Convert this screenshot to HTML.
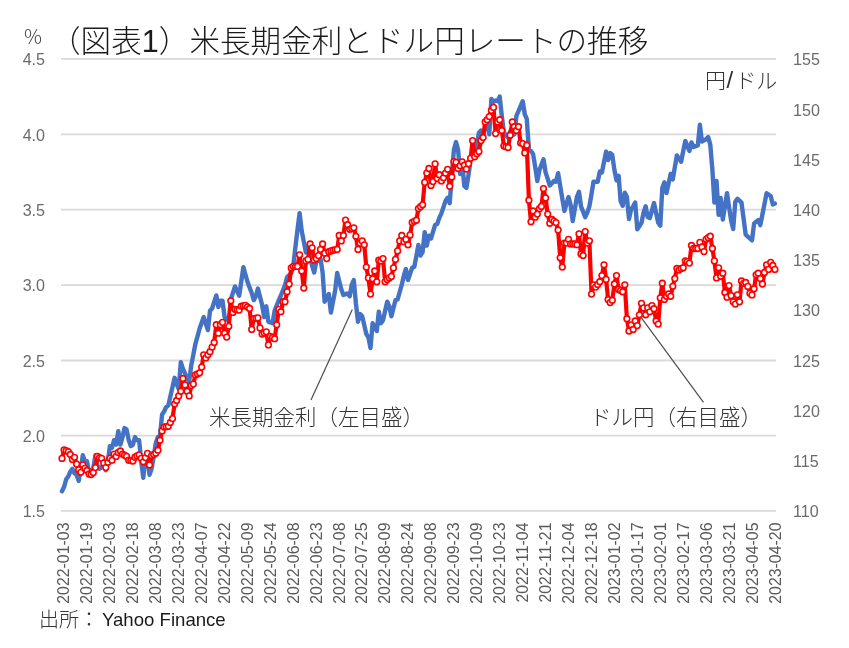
<!DOCTYPE html><html><head><meta charset="utf-8"><style>html,body{margin:0;padding:0;background:#fff;}svg{display:block}.jp{font-family:"Liberation Sans","Noto Sans CJK JP",sans-serif}.ax{font-family:"Liberation Sans","Noto Sans CJK JP",sans-serif;fill:#595959}.num{fill:#6b6b6b}</style></head><body>
<svg style="will-change:transform" width="849" height="648" viewBox="0 0 849 648">
<line x1="61" x2="776" y1="58.90" y2="58.90" stroke="#d9d9d9" stroke-width="1.8"/>
<line x1="61" x2="776" y1="134.30" y2="134.30" stroke="#d9d9d9" stroke-width="1.8"/>
<line x1="61" x2="776" y1="209.70" y2="209.70" stroke="#d9d9d9" stroke-width="1.8"/>
<line x1="61" x2="776" y1="285.10" y2="285.10" stroke="#d9d9d9" stroke-width="1.8"/>
<line x1="61" x2="776" y1="360.50" y2="360.50" stroke="#d9d9d9" stroke-width="1.8"/>
<line x1="61" x2="776" y1="435.70" y2="435.70" stroke="#d9d9d9" stroke-width="1.8"/>
<line x1="61" x2="776" y1="510.80" y2="510.80" stroke="#d9d9d9" stroke-width="1.8"/>
<text class="ax num" x="45" y="65.2" font-size="16.1" text-anchor="end">4.5</text>
<text class="ax num" x="45" y="140.5" font-size="16.1" text-anchor="end">4.0</text>
<text class="ax num" x="45" y="215.8" font-size="16.1" text-anchor="end">3.5</text>
<text class="ax num" x="45" y="291.1" font-size="16.1" text-anchor="end">3.0</text>
<text class="ax num" x="45" y="366.5" font-size="16.1" text-anchor="end">2.5</text>
<text class="ax num" x="45" y="441.8" font-size="16.1" text-anchor="end">2.0</text>
<text class="ax num" x="45" y="517.1" font-size="16.1" text-anchor="end">1.5</text>
<text class="ax num" x="793" y="65.3" font-size="16.1">155</text>
<text class="ax num" x="793" y="115.5" font-size="16.1">150</text>
<text class="ax num" x="793" y="165.7" font-size="16.1">145</text>
<text class="ax num" x="793" y="215.9" font-size="16.1">140</text>
<text class="ax num" x="793" y="266.1" font-size="16.1">135</text>
<text class="ax num" x="793" y="316.4" font-size="16.1">130</text>
<text class="ax num" x="793" y="366.6" font-size="16.1">125</text>
<text class="ax num" x="793" y="416.8" font-size="16.1">120</text>
<text class="ax num" x="793" y="467.0" font-size="16.1">115</text>
<text class="ax num" x="793" y="517.2" font-size="16.1">110</text>
<text class="ax" transform="translate(69.10,522.5) rotate(-90)" font-size="15.9" text-anchor="end">2022-01-03</text>
<text class="ax" transform="translate(92.05,522.5) rotate(-90)" font-size="15.9" text-anchor="end">2022-01-19</text>
<text class="ax" transform="translate(115.00,522.5) rotate(-90)" font-size="15.9" text-anchor="end">2022-02-03</text>
<text class="ax" transform="translate(137.95,522.5) rotate(-90)" font-size="15.9" text-anchor="end">2022-02-18</text>
<text class="ax" transform="translate(160.90,522.5) rotate(-90)" font-size="15.9" text-anchor="end">2022-03-08</text>
<text class="ax" transform="translate(183.85,522.5) rotate(-90)" font-size="15.9" text-anchor="end">2022-03-23</text>
<text class="ax" transform="translate(206.80,522.5) rotate(-90)" font-size="15.9" text-anchor="end">2022-04-07</text>
<text class="ax" transform="translate(229.75,522.5) rotate(-90)" font-size="15.9" text-anchor="end">2022-04-22</text>
<text class="ax" transform="translate(252.70,522.5) rotate(-90)" font-size="15.9" text-anchor="end">2022-05-09</text>
<text class="ax" transform="translate(275.65,522.5) rotate(-90)" font-size="15.9" text-anchor="end">2022-05-24</text>
<text class="ax" transform="translate(298.60,522.5) rotate(-90)" font-size="15.9" text-anchor="end">2022-06-08</text>
<text class="ax" transform="translate(321.55,522.5) rotate(-90)" font-size="15.9" text-anchor="end">2022-06-23</text>
<text class="ax" transform="translate(344.50,522.5) rotate(-90)" font-size="15.9" text-anchor="end">2022-07-08</text>
<text class="ax" transform="translate(367.45,522.5) rotate(-90)" font-size="15.9" text-anchor="end">2022-07-25</text>
<text class="ax" transform="translate(390.40,522.5) rotate(-90)" font-size="15.9" text-anchor="end">2022-08-09</text>
<text class="ax" transform="translate(413.35,522.5) rotate(-90)" font-size="15.9" text-anchor="end">2022-08-24</text>
<text class="ax" transform="translate(436.30,522.5) rotate(-90)" font-size="15.9" text-anchor="end">2022-09-08</text>
<text class="ax" transform="translate(459.25,522.5) rotate(-90)" font-size="15.9" text-anchor="end">2022-09-23</text>
<text class="ax" transform="translate(482.20,522.5) rotate(-90)" font-size="15.9" text-anchor="end">2022-10-09</text>
<text class="ax" transform="translate(505.15,522.5) rotate(-90)" font-size="15.9" text-anchor="end">2022-10-23</text>
<text class="ax" transform="translate(528.10,522.5) rotate(-90)" font-size="15.9" text-anchor="end">2022-11-04</text>
<text class="ax" transform="translate(551.05,522.5) rotate(-90)" font-size="15.9" text-anchor="end">2022-11-21</text>
<text class="ax" transform="translate(574.00,522.5) rotate(-90)" font-size="15.9" text-anchor="end">2022-12-04</text>
<text class="ax" transform="translate(596.95,522.5) rotate(-90)" font-size="15.9" text-anchor="end">2022-12-18</text>
<text class="ax" transform="translate(619.90,522.5) rotate(-90)" font-size="15.9" text-anchor="end">2023-01-02</text>
<text class="ax" transform="translate(642.85,522.5) rotate(-90)" font-size="15.9" text-anchor="end">2023-01-17</text>
<text class="ax" transform="translate(665.80,522.5) rotate(-90)" font-size="15.9" text-anchor="end">2023-02-01</text>
<text class="ax" transform="translate(688.75,522.5) rotate(-90)" font-size="15.9" text-anchor="end">2023-02-17</text>
<text class="ax" transform="translate(711.70,522.5) rotate(-90)" font-size="15.9" text-anchor="end">2023-03-06</text>
<text class="ax" transform="translate(734.65,522.5) rotate(-90)" font-size="15.9" text-anchor="end">2023-03-21</text>
<text class="ax" transform="translate(757.60,522.5) rotate(-90)" font-size="15.9" text-anchor="end">2023-04-05</text>
<text class="ax" transform="translate(780.55,522.5) rotate(-90)" font-size="15.9" text-anchor="end">2023-04-20</text>
<polyline points="62.0,491.3 64.1,486.8 66.2,479.3 68.3,476.3 70.3,471.7 72.4,468.7 74.5,473.2 76.6,474.8 78.7,480.8 80.8,468.7 82.8,455.2 84.9,461.2 87.0,461.2 89.1,473.2 91.2,470.2 93.3,468.7 95.4,455.2 97.4,465.7 99.5,468.7 101.6,467.2 103.7,464.2 105.8,470.2 107.9,461.2 109.9,446.1 112.0,447.6 114.1,440.1 116.2,444.6 118.3,431.1 120.4,444.6 122.5,437.1 124.5,428.1 126.6,429.6 128.7,440.1 130.8,446.1 132.9,444.6 135.0,437.1 137.0,440.1 139.1,440.1 141.2,461.2 143.3,477.8 145.4,456.7 147.5,458.2 149.5,474.8 151.6,468.7 153.7,456.7 155.8,443.1 157.9,437.1 160.0,435.6 162.1,414.5 164.1,411.5 166.2,407.0 168.3,405.5 170.4,396.2 172.5,387.0 174.6,377.8 176.6,384.0 178.7,389.0 180.8,362.1 182.9,368.7 185.0,373.4 187.1,378.0 189.2,381.3 191.2,365.6 193.3,354.8 195.4,344.0 197.5,336.3 199.6,328.6 201.7,322.8 203.7,317.0 205.8,323.6 207.9,330.1 210.0,310.8 212.1,308.5 214.2,301.9 216.3,295.4 218.3,307.0 220.4,300.8 222.5,300.8 224.6,317.0 226.7,319.3 228.8,321.6 230.8,299.3 232.9,292.9 235.0,286.4 237.1,291.0 239.2,295.7 241.3,281.4 243.4,267.1 245.4,274.5 247.5,281.8 249.6,287.4 251.7,293.0 253.8,300.1 255.9,296.3 257.9,288.6 260.0,296.7 262.1,304.8 264.2,317.1 266.3,306.3 268.4,321.7 270.4,322.5 272.5,323.3 274.6,310.9 276.7,305.5 278.8,300.1 280.9,295.5 283.0,290.2 285.0,285.0 287.1,277.0 289.2,275.0 291.3,273.0 293.4,265.0 295.5,246.3 297.5,229.7 299.6,213.1 301.7,230.9 303.8,241.7 305.9,252.5 308.0,246.3 310.1,258.6 312.1,265.6 314.2,272.5 316.3,261.7 318.4,260.1 320.5,258.6 322.6,272.3 324.6,301.7 326.7,297.9 328.8,294.0 330.9,312.5 333.0,301.7 335.1,290.9 337.2,273.0 339.2,281.1 341.3,289.3 343.4,295.0 345.5,294.2 347.6,293.5 349.7,296.3 351.7,284.9 353.8,280.1 355.9,303.2 358.0,321.7 360.1,314.0 362.2,316.3 364.3,325.2 366.3,334.1 368.4,337.2 370.5,348.0 372.6,323.3 374.7,327.1 376.8,331.0 378.8,311.7 380.9,323.3 383.0,320.2 385.1,310.9 387.2,301.7 389.3,306.3 391.4,316.3 393.4,308.2 395.5,300.1 397.6,299.4 399.7,292.0 401.8,284.7 403.9,275.4 405.9,269.0 408.0,280.0 410.1,273.8 412.2,267.6 414.3,266.9 416.4,255.9 418.4,244.9 420.5,255.5 422.6,252.0 424.7,232.1 426.8,245.6 428.9,235.7 431.0,238.5 433.0,231.8 435.1,225.0 437.2,224.1 439.3,217.9 441.4,213.3 443.5,207.1 445.5,200.9 447.6,197.8 449.7,203.2 451.8,176.2 453.9,149.8 456.0,142.1 458.1,149.8 460.1,174.0 462.2,163.0 464.3,186.0 466.4,188.0 468.5,175.0 470.6,160.0 472.6,154.9 474.7,149.8 476.8,146.0 478.9,132.8 481.0,130.5 483.1,134.4 485.2,127.5 487.2,120.5 489.3,134.4 491.4,98.9 493.5,102.0 495.6,100.4 497.7,101.2 499.7,96.6 501.8,115.9 503.9,132.8 506.0,135.2 508.1,137.5 510.2,131.3 512.3,132.9 514.3,134.4 516.4,115.9 518.5,111.2 520.6,106.2 522.7,101.2 524.8,114.3 526.8,119.0 528.9,150.0 531.0,151.0 533.1,154.0 535.2,167.0 537.3,181.0 539.4,170.3 541.4,164.8 543.5,159.3 545.6,172.4 547.7,178.9 549.8,185.5 551.9,183.2 553.9,180.9 556.0,181.7 558.1,173.2 560.2,185.9 562.3,198.6 564.4,211.0 566.4,204.1 568.5,197.1 570.6,204.8 572.7,221.0 574.8,209.1 576.9,197.1 579.0,191.7 581.0,206.4 583.1,211.8 585.2,217.2 587.3,212.5 589.4,206.4 591.5,194.1 593.5,181.7 595.6,181.7 597.7,181.7 599.8,171.6 601.9,172.4 604.0,162.0 606.1,151.6 608.1,160.1 610.2,153.1 612.3,155.0 614.4,170.0 616.5,180.4 618.6,175.7 620.6,201.1 622.7,205.8 624.8,192.6 626.9,197.0 629.0,219.0 631.1,209.6 633.2,206.1 635.2,202.5 637.3,229.4 639.4,226.1 641.5,222.8 643.6,212.4 645.7,206.3 647.7,217.1 649.8,218.1 651.9,210.6 654.0,203.0 656.1,212.9 658.2,222.8 660.3,225.6 662.3,187.9 664.4,182.3 666.5,193.1 668.6,183.4 670.7,173.8 672.8,179.4 674.8,167.4 676.9,155.5 679.0,158.6 681.1,161.7 683.2,151.3 685.3,140.9 687.3,145.9 689.4,150.9 691.5,142.4 693.6,147.0 695.7,146.2 697.8,145.5 699.9,124.7 701.9,141.6 704.0,140.4 706.1,139.3 708.2,137.0 710.3,144.7 712.4,170.0 714.4,202.6 716.5,180.9 718.6,214.9 720.7,197.9 722.8,219.6 724.9,206.4 727.0,193.2 729.0,206.8 731.1,220.5 733.2,229.0 735.3,201.7 737.4,198.8 739.5,200.7 741.5,202.6 743.6,218.6 745.7,234.7 747.8,236.6 749.9,238.4 752.0,240.3 754.1,223.4 756.1,221.8 758.2,220.1 760.3,225.2 762.4,214.5 764.5,203.9 766.6,193.2 768.6,194.6 770.7,196.0 772.8,204.5 774.9,203.6" fill="none" stroke="#4472C4" stroke-width="4.4" stroke-linejoin="round" stroke-linecap="round"/>
<polyline points="62.0,458.4 64.1,449.9 66.2,450.6 68.3,451.7 70.3,454.5 72.4,459.5 74.5,457.3 76.6,464.1 78.7,469.8 80.8,472.3 82.8,464.8 84.9,468.4 87.0,470.5 89.1,474.0 91.2,474.5 93.3,472.6 95.4,467.6 97.4,456.3 99.5,457.7 101.6,458.4 103.7,463.0 105.8,467.6 107.9,462.3 109.9,458.4 112.0,460.2 114.1,454.1 116.2,456.4 118.3,452.5 120.4,451.0 122.5,454.1 124.5,455.2 126.6,456.4 128.7,460.2 130.8,460.6 132.9,461.0 135.0,457.2 137.0,456.0 139.1,454.8 141.2,458.3 143.3,461.8 145.4,457.6 147.5,453.3 149.5,464.9 151.6,455.6 153.7,454.5 155.8,453.3 157.9,450.2 160.0,440.2 162.1,430.9 164.1,427.1 166.2,426.7 168.3,426.3 170.4,422.5 172.5,418.6 174.6,404.0 176.6,400.5 178.7,395.9 180.8,391.3 182.9,378.5 185.0,384.9 187.1,391.3 189.2,395.9 191.2,385.6 193.3,384.1 195.4,374.9 197.5,373.9 199.6,372.8 201.7,367.1 203.7,354.8 205.8,357.9 207.9,354.8 210.0,351.7 212.1,347.1 214.2,342.5 216.3,324.7 218.3,333.2 220.4,324.7 222.5,322.4 224.6,333.2 226.7,337.1 228.8,326.3 230.8,300.8 232.9,312.4 235.0,309.3 237.1,309.7 239.2,310.1 241.3,306.2 243.4,305.8 245.4,305.4 247.5,306.9 249.6,308.5 251.7,329.4 253.8,318.6 255.9,318.2 257.9,317.9 260.0,327.9 262.1,334.1 264.2,333.0 266.3,331.8 268.4,344.9 270.4,336.4 272.5,337.5 274.6,338.7 276.7,324.8 278.8,309.4 280.9,311.7 283.0,301.7 285.0,301.7 287.1,291.8 289.2,284.1 291.3,267.9 293.4,266.4 295.5,266.4 297.5,266.4 299.6,254.8 301.7,271.0 303.8,288.0 305.9,261.0 308.0,259.4 310.1,244.0 312.1,247.8 314.2,260.2 316.3,258.6 318.4,255.6 320.5,249.4 322.6,244.0 324.6,253.2 326.7,258.6 328.8,251.7 330.9,250.9 333.0,250.2 335.1,249.8 337.2,249.4 339.2,235.5 341.3,240.9 343.4,235.5 345.5,220.1 347.6,224.7 349.7,229.3 351.7,228.6 353.8,227.8 355.9,236.3 358.0,249.4 360.1,243.2 362.2,240.9 364.3,244.8 366.3,267.1 368.4,277.9 370.5,294.1 372.6,278.7 374.7,271.0 376.8,281.8 378.8,260.2 380.9,261.0 383.0,258.6 385.1,281.8 387.2,279.5 389.3,277.9 391.4,276.4 393.4,267.9 395.5,259.4 397.6,250.9 399.7,240.9 401.8,235.5 403.9,241.7 405.9,239.4 408.0,244.8 410.1,234.9 412.2,222.5 414.3,221.3 416.4,220.2 418.4,208.6 420.5,206.7 422.6,204.8 424.7,182.4 426.8,173.1 428.9,168.5 431.0,185.5 433.0,181.6 435.1,163.9 437.2,178.5 439.3,174.7 441.4,180.9 443.5,177.8 445.5,173.1 447.6,169.3 449.7,186.3 451.8,177.0 453.9,161.6 456.0,162.3 458.1,168.5 460.1,165.7 462.2,161.8 464.3,165.2 466.4,169.1 468.5,163.7 470.6,158.3 472.6,140.6 474.7,156.8 476.8,153.7 478.9,151.4 481.0,140.6 483.1,137.5 485.2,122.0 487.2,119.7 489.3,116.6 491.4,110.5 493.5,107.4 495.6,133.6 497.7,122.0 499.7,119.7 501.8,130.5 503.9,146.0 506.0,146.7 508.1,147.5 510.2,135.2 512.3,122.0 514.3,126.7 516.4,130.5 518.5,126.7 520.6,142.9 522.7,143.6 524.8,152.9 526.8,145.2 528.9,200.2 531.0,221.8 533.1,211.0 535.2,217.2 537.3,214.1 539.4,208.7 541.4,206.4 543.5,188.6 545.6,197.9 547.7,214.1 549.8,223.3 551.9,219.5 553.9,221.1 556.0,222.6 558.1,230.0 560.2,257.8 562.3,267.1 564.4,243.1 566.4,243.1 568.5,239.3 570.6,243.9 572.7,243.9 574.8,243.9 576.9,244.7 579.0,233.9 581.0,254.0 583.1,255.5 585.2,231.6 587.3,243.1 589.4,240.8 591.5,294.1 593.5,284.8 595.6,287.1 597.7,284.4 599.8,281.7 601.9,275.6 604.0,264.8 606.1,279.4 608.1,299.5 610.2,302.6 612.3,300.2 614.4,284.0 616.5,275.6 618.6,289.4 620.6,290.6 622.7,291.8 624.8,284.8 626.9,318.7 629.0,331.0 631.1,324.9 633.2,329.5 635.2,321.0 637.3,325.6 639.4,314.8 641.5,303.3 643.6,307.9 645.7,314.8 647.7,307.9 649.8,311.8 651.9,305.6 654.0,308.7 656.1,321.0 658.2,324.1 660.3,297.9 662.3,283.2 664.4,299.4 666.5,296.3 668.6,294.0 670.7,296.3 672.8,286.3 674.8,278.6 676.9,268.5 679.0,270.1 681.1,268.5 683.2,267.8 685.3,260.8 687.3,261.6 689.4,263.1 691.5,245.5 693.6,248.5 695.7,248.5 697.8,248.5 699.9,242.4 701.9,247.0 704.0,251.6 706.1,239.3 708.2,237.7 710.3,236.2 712.4,248.5 714.4,260.9 716.5,277.9 718.6,267.8 720.7,276.3 722.8,273.2 724.9,292.5 727.0,297.2 729.0,285.6 731.1,295.6 733.2,301.8 735.3,304.1 737.4,294.8 739.5,301.8 741.5,281.0 743.6,283.3 745.7,282.5 747.8,286.4 749.9,293.3 752.0,294.9 754.1,288.7 756.1,274.8 758.2,273.2 760.3,278.6 762.4,284.0 764.5,272.5 766.6,264.8 768.6,269.4 770.7,262.4 772.8,265.5 774.9,269.4" fill="none" stroke="#FF0000" stroke-width="4.2" stroke-linejoin="round"/>
<g fill="#fff" stroke="#FF0000" stroke-width="1.6">
<circle cx="62.0" cy="458.4" r="2.85"/>
<circle cx="64.1" cy="449.9" r="2.85"/>
<circle cx="66.2" cy="450.6" r="2.85"/>
<circle cx="68.3" cy="451.7" r="2.85"/>
<circle cx="70.3" cy="454.5" r="2.85"/>
<circle cx="72.4" cy="459.5" r="2.85"/>
<circle cx="74.5" cy="457.3" r="2.85"/>
<circle cx="76.6" cy="464.1" r="2.85"/>
<circle cx="78.7" cy="469.8" r="2.85"/>
<circle cx="80.8" cy="472.3" r="2.85"/>
<circle cx="82.8" cy="464.8" r="2.85"/>
<circle cx="84.9" cy="468.4" r="2.85"/>
<circle cx="87.0" cy="470.5" r="2.85"/>
<circle cx="89.1" cy="474.0" r="2.85"/>
<circle cx="91.2" cy="474.5" r="2.85"/>
<circle cx="93.3" cy="472.6" r="2.85"/>
<circle cx="95.4" cy="467.6" r="2.85"/>
<circle cx="97.4" cy="456.3" r="2.85"/>
<circle cx="99.5" cy="457.7" r="2.85"/>
<circle cx="101.6" cy="458.4" r="2.85"/>
<circle cx="103.7" cy="463.0" r="2.85"/>
<circle cx="105.8" cy="467.6" r="2.85"/>
<circle cx="107.9" cy="462.3" r="2.85"/>
<circle cx="109.9" cy="458.4" r="2.85"/>
<circle cx="112.0" cy="460.2" r="2.85"/>
<circle cx="114.1" cy="454.1" r="2.85"/>
<circle cx="116.2" cy="456.4" r="2.85"/>
<circle cx="118.3" cy="452.5" r="2.85"/>
<circle cx="120.4" cy="451.0" r="2.85"/>
<circle cx="122.5" cy="454.1" r="2.85"/>
<circle cx="124.5" cy="455.2" r="2.85"/>
<circle cx="126.6" cy="456.4" r="2.85"/>
<circle cx="128.7" cy="460.2" r="2.85"/>
<circle cx="130.8" cy="460.6" r="2.85"/>
<circle cx="132.9" cy="461.0" r="2.85"/>
<circle cx="135.0" cy="457.2" r="2.85"/>
<circle cx="137.0" cy="456.0" r="2.85"/>
<circle cx="139.1" cy="454.8" r="2.85"/>
<circle cx="141.2" cy="458.3" r="2.85"/>
<circle cx="143.3" cy="461.8" r="2.85"/>
<circle cx="145.4" cy="457.6" r="2.85"/>
<circle cx="147.5" cy="453.3" r="2.85"/>
<circle cx="149.5" cy="464.9" r="2.85"/>
<circle cx="151.6" cy="455.6" r="2.85"/>
<circle cx="153.7" cy="454.5" r="2.85"/>
<circle cx="155.8" cy="453.3" r="2.85"/>
<circle cx="157.9" cy="450.2" r="2.85"/>
<circle cx="160.0" cy="440.2" r="2.85"/>
<circle cx="162.1" cy="430.9" r="2.85"/>
<circle cx="164.1" cy="427.1" r="2.85"/>
<circle cx="166.2" cy="426.7" r="2.85"/>
<circle cx="168.3" cy="426.3" r="2.85"/>
<circle cx="170.4" cy="422.5" r="2.85"/>
<circle cx="172.5" cy="418.6" r="2.85"/>
<circle cx="174.6" cy="404.0" r="2.85"/>
<circle cx="176.6" cy="400.5" r="2.85"/>
<circle cx="178.7" cy="395.9" r="2.85"/>
<circle cx="180.8" cy="391.3" r="2.85"/>
<circle cx="182.9" cy="378.5" r="2.85"/>
<circle cx="185.0" cy="384.9" r="2.85"/>
<circle cx="187.1" cy="391.3" r="2.85"/>
<circle cx="189.2" cy="395.9" r="2.85"/>
<circle cx="191.2" cy="385.6" r="2.85"/>
<circle cx="193.3" cy="384.1" r="2.85"/>
<circle cx="195.4" cy="374.9" r="2.85"/>
<circle cx="197.5" cy="373.9" r="2.85"/>
<circle cx="199.6" cy="372.8" r="2.85"/>
<circle cx="201.7" cy="367.1" r="2.85"/>
<circle cx="203.7" cy="354.8" r="2.85"/>
<circle cx="205.8" cy="357.9" r="2.85"/>
<circle cx="207.9" cy="354.8" r="2.85"/>
<circle cx="210.0" cy="351.7" r="2.85"/>
<circle cx="212.1" cy="347.1" r="2.85"/>
<circle cx="214.2" cy="342.5" r="2.85"/>
<circle cx="216.3" cy="324.7" r="2.85"/>
<circle cx="218.3" cy="333.2" r="2.85"/>
<circle cx="220.4" cy="324.7" r="2.85"/>
<circle cx="222.5" cy="322.4" r="2.85"/>
<circle cx="224.6" cy="333.2" r="2.85"/>
<circle cx="226.7" cy="337.1" r="2.85"/>
<circle cx="228.8" cy="326.3" r="2.85"/>
<circle cx="230.8" cy="300.8" r="2.85"/>
<circle cx="232.9" cy="312.4" r="2.85"/>
<circle cx="235.0" cy="309.3" r="2.85"/>
<circle cx="237.1" cy="309.7" r="2.85"/>
<circle cx="239.2" cy="310.1" r="2.85"/>
<circle cx="241.3" cy="306.2" r="2.85"/>
<circle cx="243.4" cy="305.8" r="2.85"/>
<circle cx="245.4" cy="305.4" r="2.85"/>
<circle cx="247.5" cy="306.9" r="2.85"/>
<circle cx="249.6" cy="308.5" r="2.85"/>
<circle cx="251.7" cy="329.4" r="2.85"/>
<circle cx="253.8" cy="318.6" r="2.85"/>
<circle cx="255.9" cy="318.2" r="2.85"/>
<circle cx="257.9" cy="317.9" r="2.85"/>
<circle cx="260.0" cy="327.9" r="2.85"/>
<circle cx="262.1" cy="334.1" r="2.85"/>
<circle cx="264.2" cy="333.0" r="2.85"/>
<circle cx="266.3" cy="331.8" r="2.85"/>
<circle cx="268.4" cy="344.9" r="2.85"/>
<circle cx="270.4" cy="336.4" r="2.85"/>
<circle cx="272.5" cy="337.5" r="2.85"/>
<circle cx="274.6" cy="338.7" r="2.85"/>
<circle cx="276.7" cy="324.8" r="2.85"/>
<circle cx="278.8" cy="309.4" r="2.85"/>
<circle cx="280.9" cy="311.7" r="2.85"/>
<circle cx="283.0" cy="301.7" r="2.85"/>
<circle cx="285.0" cy="301.7" r="2.85"/>
<circle cx="287.1" cy="291.8" r="2.85"/>
<circle cx="289.2" cy="284.1" r="2.85"/>
<circle cx="291.3" cy="267.9" r="2.85"/>
<circle cx="293.4" cy="266.4" r="2.85"/>
<circle cx="295.5" cy="266.4" r="2.85"/>
<circle cx="297.5" cy="266.4" r="2.85"/>
<circle cx="299.6" cy="254.8" r="2.85"/>
<circle cx="301.7" cy="271.0" r="2.85"/>
<circle cx="303.8" cy="288.0" r="2.85"/>
<circle cx="305.9" cy="261.0" r="2.85"/>
<circle cx="308.0" cy="259.4" r="2.85"/>
<circle cx="310.1" cy="244.0" r="2.85"/>
<circle cx="312.1" cy="247.8" r="2.85"/>
<circle cx="314.2" cy="260.2" r="2.85"/>
<circle cx="316.3" cy="258.6" r="2.85"/>
<circle cx="318.4" cy="255.6" r="2.85"/>
<circle cx="320.5" cy="249.4" r="2.85"/>
<circle cx="322.6" cy="244.0" r="2.85"/>
<circle cx="324.6" cy="253.2" r="2.85"/>
<circle cx="326.7" cy="258.6" r="2.85"/>
<circle cx="328.8" cy="251.7" r="2.85"/>
<circle cx="330.9" cy="250.9" r="2.85"/>
<circle cx="333.0" cy="250.2" r="2.85"/>
<circle cx="335.1" cy="249.8" r="2.85"/>
<circle cx="337.2" cy="249.4" r="2.85"/>
<circle cx="339.2" cy="235.5" r="2.85"/>
<circle cx="341.3" cy="240.9" r="2.85"/>
<circle cx="343.4" cy="235.5" r="2.85"/>
<circle cx="345.5" cy="220.1" r="2.85"/>
<circle cx="347.6" cy="224.7" r="2.85"/>
<circle cx="349.7" cy="229.3" r="2.85"/>
<circle cx="351.7" cy="228.6" r="2.85"/>
<circle cx="353.8" cy="227.8" r="2.85"/>
<circle cx="355.9" cy="236.3" r="2.85"/>
<circle cx="358.0" cy="249.4" r="2.85"/>
<circle cx="360.1" cy="243.2" r="2.85"/>
<circle cx="362.2" cy="240.9" r="2.85"/>
<circle cx="364.3" cy="244.8" r="2.85"/>
<circle cx="366.3" cy="267.1" r="2.85"/>
<circle cx="368.4" cy="277.9" r="2.85"/>
<circle cx="370.5" cy="294.1" r="2.85"/>
<circle cx="372.6" cy="278.7" r="2.85"/>
<circle cx="374.7" cy="271.0" r="2.85"/>
<circle cx="376.8" cy="281.8" r="2.85"/>
<circle cx="378.8" cy="260.2" r="2.85"/>
<circle cx="380.9" cy="261.0" r="2.85"/>
<circle cx="383.0" cy="258.6" r="2.85"/>
<circle cx="385.1" cy="281.8" r="2.85"/>
<circle cx="387.2" cy="279.5" r="2.85"/>
<circle cx="389.3" cy="277.9" r="2.85"/>
<circle cx="391.4" cy="276.4" r="2.85"/>
<circle cx="393.4" cy="267.9" r="2.85"/>
<circle cx="395.5" cy="259.4" r="2.85"/>
<circle cx="397.6" cy="250.9" r="2.85"/>
<circle cx="399.7" cy="240.9" r="2.85"/>
<circle cx="401.8" cy="235.5" r="2.85"/>
<circle cx="403.9" cy="241.7" r="2.85"/>
<circle cx="405.9" cy="239.4" r="2.85"/>
<circle cx="408.0" cy="244.8" r="2.85"/>
<circle cx="410.1" cy="234.9" r="2.85"/>
<circle cx="412.2" cy="222.5" r="2.85"/>
<circle cx="414.3" cy="221.3" r="2.85"/>
<circle cx="416.4" cy="220.2" r="2.85"/>
<circle cx="418.4" cy="208.6" r="2.85"/>
<circle cx="420.5" cy="206.7" r="2.85"/>
<circle cx="422.6" cy="204.8" r="2.85"/>
<circle cx="424.7" cy="182.4" r="2.85"/>
<circle cx="426.8" cy="173.1" r="2.85"/>
<circle cx="428.9" cy="168.5" r="2.85"/>
<circle cx="431.0" cy="185.5" r="2.85"/>
<circle cx="433.0" cy="181.6" r="2.85"/>
<circle cx="435.1" cy="163.9" r="2.85"/>
<circle cx="437.2" cy="178.5" r="2.85"/>
<circle cx="439.3" cy="174.7" r="2.85"/>
<circle cx="441.4" cy="180.9" r="2.85"/>
<circle cx="443.5" cy="177.8" r="2.85"/>
<circle cx="445.5" cy="173.1" r="2.85"/>
<circle cx="447.6" cy="169.3" r="2.85"/>
<circle cx="449.7" cy="186.3" r="2.85"/>
<circle cx="451.8" cy="177.0" r="2.85"/>
<circle cx="453.9" cy="161.6" r="2.85"/>
<circle cx="456.0" cy="162.3" r="2.85"/>
<circle cx="458.1" cy="168.5" r="2.85"/>
<circle cx="460.1" cy="165.7" r="2.85"/>
<circle cx="462.2" cy="161.8" r="2.85"/>
<circle cx="464.3" cy="165.2" r="2.85"/>
<circle cx="466.4" cy="169.1" r="2.85"/>
<circle cx="468.5" cy="163.7" r="2.85"/>
<circle cx="470.6" cy="158.3" r="2.85"/>
<circle cx="472.6" cy="140.6" r="2.85"/>
<circle cx="474.7" cy="156.8" r="2.85"/>
<circle cx="476.8" cy="153.7" r="2.85"/>
<circle cx="478.9" cy="151.4" r="2.85"/>
<circle cx="481.0" cy="140.6" r="2.85"/>
<circle cx="483.1" cy="137.5" r="2.85"/>
<circle cx="485.2" cy="122.0" r="2.85"/>
<circle cx="487.2" cy="119.7" r="2.85"/>
<circle cx="489.3" cy="116.6" r="2.85"/>
<circle cx="491.4" cy="110.5" r="2.85"/>
<circle cx="493.5" cy="107.4" r="2.85"/>
<circle cx="495.6" cy="133.6" r="2.85"/>
<circle cx="497.7" cy="122.0" r="2.85"/>
<circle cx="499.7" cy="119.7" r="2.85"/>
<circle cx="501.8" cy="130.5" r="2.85"/>
<circle cx="503.9" cy="146.0" r="2.85"/>
<circle cx="506.0" cy="146.7" r="2.85"/>
<circle cx="508.1" cy="147.5" r="2.85"/>
<circle cx="510.2" cy="135.2" r="2.85"/>
<circle cx="512.3" cy="122.0" r="2.85"/>
<circle cx="514.3" cy="126.7" r="2.85"/>
<circle cx="516.4" cy="130.5" r="2.85"/>
<circle cx="518.5" cy="126.7" r="2.85"/>
<circle cx="520.6" cy="142.9" r="2.85"/>
<circle cx="522.7" cy="143.6" r="2.85"/>
<circle cx="524.8" cy="152.9" r="2.85"/>
<circle cx="526.8" cy="145.2" r="2.85"/>
<circle cx="528.9" cy="200.2" r="2.85"/>
<circle cx="531.0" cy="221.8" r="2.85"/>
<circle cx="533.1" cy="211.0" r="2.85"/>
<circle cx="535.2" cy="217.2" r="2.85"/>
<circle cx="537.3" cy="214.1" r="2.85"/>
<circle cx="539.4" cy="208.7" r="2.85"/>
<circle cx="541.4" cy="206.4" r="2.85"/>
<circle cx="543.5" cy="188.6" r="2.85"/>
<circle cx="545.6" cy="197.9" r="2.85"/>
<circle cx="547.7" cy="214.1" r="2.85"/>
<circle cx="549.8" cy="223.3" r="2.85"/>
<circle cx="551.9" cy="219.5" r="2.85"/>
<circle cx="553.9" cy="221.1" r="2.85"/>
<circle cx="556.0" cy="222.6" r="2.85"/>
<circle cx="558.1" cy="230.0" r="2.85"/>
<circle cx="560.2" cy="257.8" r="2.85"/>
<circle cx="562.3" cy="267.1" r="2.85"/>
<circle cx="564.4" cy="243.1" r="2.85"/>
<circle cx="566.4" cy="243.1" r="2.85"/>
<circle cx="568.5" cy="239.3" r="2.85"/>
<circle cx="570.6" cy="243.9" r="2.85"/>
<circle cx="572.7" cy="243.9" r="2.85"/>
<circle cx="574.8" cy="243.9" r="2.85"/>
<circle cx="576.9" cy="244.7" r="2.85"/>
<circle cx="579.0" cy="233.9" r="2.85"/>
<circle cx="581.0" cy="254.0" r="2.85"/>
<circle cx="583.1" cy="255.5" r="2.85"/>
<circle cx="585.2" cy="231.6" r="2.85"/>
<circle cx="587.3" cy="243.1" r="2.85"/>
<circle cx="589.4" cy="240.8" r="2.85"/>
<circle cx="591.5" cy="294.1" r="2.85"/>
<circle cx="593.5" cy="284.8" r="2.85"/>
<circle cx="595.6" cy="287.1" r="2.85"/>
<circle cx="597.7" cy="284.4" r="2.85"/>
<circle cx="599.8" cy="281.7" r="2.85"/>
<circle cx="601.9" cy="275.6" r="2.85"/>
<circle cx="604.0" cy="264.8" r="2.85"/>
<circle cx="606.1" cy="279.4" r="2.85"/>
<circle cx="608.1" cy="299.5" r="2.85"/>
<circle cx="610.2" cy="302.6" r="2.85"/>
<circle cx="612.3" cy="300.2" r="2.85"/>
<circle cx="614.4" cy="284.0" r="2.85"/>
<circle cx="616.5" cy="275.6" r="2.85"/>
<circle cx="618.6" cy="289.4" r="2.85"/>
<circle cx="620.6" cy="290.6" r="2.85"/>
<circle cx="622.7" cy="291.8" r="2.85"/>
<circle cx="624.8" cy="284.8" r="2.85"/>
<circle cx="626.9" cy="318.7" r="2.85"/>
<circle cx="629.0" cy="331.0" r="2.85"/>
<circle cx="631.1" cy="324.9" r="2.85"/>
<circle cx="633.2" cy="329.5" r="2.85"/>
<circle cx="635.2" cy="321.0" r="2.85"/>
<circle cx="637.3" cy="325.6" r="2.85"/>
<circle cx="639.4" cy="314.8" r="2.85"/>
<circle cx="641.5" cy="303.3" r="2.85"/>
<circle cx="643.6" cy="307.9" r="2.85"/>
<circle cx="645.7" cy="314.8" r="2.85"/>
<circle cx="647.7" cy="307.9" r="2.85"/>
<circle cx="649.8" cy="311.8" r="2.85"/>
<circle cx="651.9" cy="305.6" r="2.85"/>
<circle cx="654.0" cy="308.7" r="2.85"/>
<circle cx="656.1" cy="321.0" r="2.85"/>
<circle cx="658.2" cy="324.1" r="2.85"/>
<circle cx="660.3" cy="297.9" r="2.85"/>
<circle cx="662.3" cy="283.2" r="2.85"/>
<circle cx="664.4" cy="299.4" r="2.85"/>
<circle cx="666.5" cy="296.3" r="2.85"/>
<circle cx="668.6" cy="294.0" r="2.85"/>
<circle cx="670.7" cy="296.3" r="2.85"/>
<circle cx="672.8" cy="286.3" r="2.85"/>
<circle cx="674.8" cy="278.6" r="2.85"/>
<circle cx="676.9" cy="268.5" r="2.85"/>
<circle cx="679.0" cy="270.1" r="2.85"/>
<circle cx="681.1" cy="268.5" r="2.85"/>
<circle cx="683.2" cy="267.8" r="2.85"/>
<circle cx="685.3" cy="260.8" r="2.85"/>
<circle cx="687.3" cy="261.6" r="2.85"/>
<circle cx="689.4" cy="263.1" r="2.85"/>
<circle cx="691.5" cy="245.5" r="2.85"/>
<circle cx="693.6" cy="248.5" r="2.85"/>
<circle cx="695.7" cy="248.5" r="2.85"/>
<circle cx="697.8" cy="248.5" r="2.85"/>
<circle cx="699.9" cy="242.4" r="2.85"/>
<circle cx="701.9" cy="247.0" r="2.85"/>
<circle cx="704.0" cy="251.6" r="2.85"/>
<circle cx="706.1" cy="239.3" r="2.85"/>
<circle cx="708.2" cy="237.7" r="2.85"/>
<circle cx="710.3" cy="236.2" r="2.85"/>
<circle cx="712.4" cy="248.5" r="2.85"/>
<circle cx="714.4" cy="260.9" r="2.85"/>
<circle cx="716.5" cy="277.9" r="2.85"/>
<circle cx="718.6" cy="267.8" r="2.85"/>
<circle cx="720.7" cy="276.3" r="2.85"/>
<circle cx="722.8" cy="273.2" r="2.85"/>
<circle cx="724.9" cy="292.5" r="2.85"/>
<circle cx="727.0" cy="297.2" r="2.85"/>
<circle cx="729.0" cy="285.6" r="2.85"/>
<circle cx="731.1" cy="295.6" r="2.85"/>
<circle cx="733.2" cy="301.8" r="2.85"/>
<circle cx="735.3" cy="304.1" r="2.85"/>
<circle cx="737.4" cy="294.8" r="2.85"/>
<circle cx="739.5" cy="301.8" r="2.85"/>
<circle cx="741.5" cy="281.0" r="2.85"/>
<circle cx="743.6" cy="283.3" r="2.85"/>
<circle cx="745.7" cy="282.5" r="2.85"/>
<circle cx="747.8" cy="286.4" r="2.85"/>
<circle cx="749.9" cy="293.3" r="2.85"/>
<circle cx="752.0" cy="294.9" r="2.85"/>
<circle cx="754.1" cy="288.7" r="2.85"/>
<circle cx="756.1" cy="274.8" r="2.85"/>
<circle cx="758.2" cy="273.2" r="2.85"/>
<circle cx="760.3" cy="278.6" r="2.85"/>
<circle cx="762.4" cy="284.0" r="2.85"/>
<circle cx="764.5" cy="272.5" r="2.85"/>
<circle cx="766.6" cy="264.8" r="2.85"/>
<circle cx="768.6" cy="269.4" r="2.85"/>
<circle cx="770.7" cy="262.4" r="2.85"/>
<circle cx="772.8" cy="265.5" r="2.85"/>
<circle cx="774.9" cy="269.4" r="2.85"/>
</g>
<line x1="311" y1="400" x2="352.3" y2="309.4" stroke="#4d4d4d" stroke-width="1.2"/>
<line x1="703.5" y1="402.4" x2="640.7" y2="316.8" stroke="#4d4d4d" stroke-width="1.2"/>
<text class="jp" x="209" y="425" font-size="21.5" font-weight="300" fill="#333">米長期金利（左目盛）</text>
<text class="jp" x="590" y="424.5" font-size="21.5" font-weight="300" fill="#333">ドル円（右目盛）</text>
<text class="jp" x="705" y="87.5" font-size="21" font-weight="300" fill="#333">円<tspan dx="0.5" font-size="24" font-weight="400">/</tspan><tspan dx="2">ドル</tspan></text>
<text x="24" y="44" font-size="20" font-weight="300" fill="#404040" style='font-family:"Noto Sans CJK JP",sans-serif'>%</text>
<text class="jp" x="50" y="51.5" font-size="30.6" font-weight="300" fill="#1a1a1a">（図表1）米長期金利とドル円レートの推移</text>
<text class="jp" x="39" y="627" font-size="20" font-weight="300" fill="#333">出所：</text>
<text class="jp" x="102" y="625.7" font-size="18.6" fill="#1a1a1a">Yahoo Finance</text>
</svg></body></html>
